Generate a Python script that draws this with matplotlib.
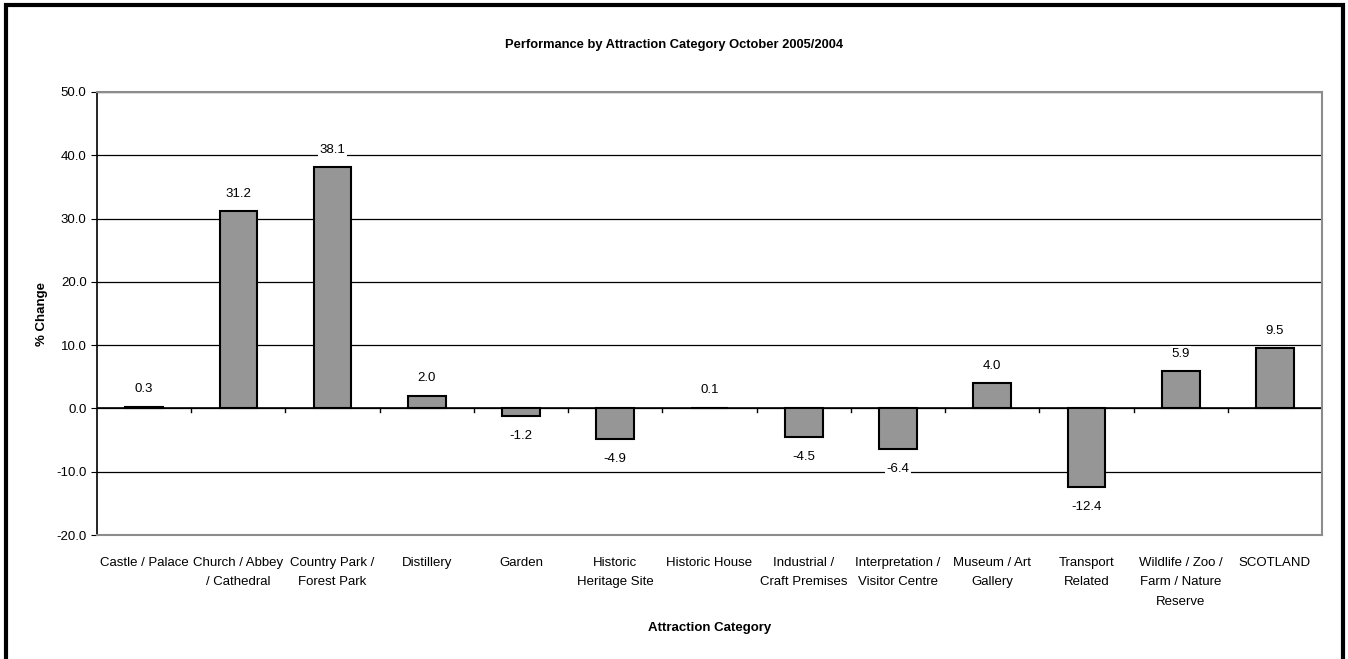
import matplotlib.pyplot as plt
from matplotlib.patches import Rectangle
import numpy as np

categories = ["Castle / Palace", "Church / Abbey\n/ Cathedral", "Country Park /\nForest Park",
              "Distillery", "Garden", "Historic\nHeritage Site", "Historic House",
              "Industrial /\nCraft Premises", "Interpretation /\nVisitor Centre",
              "Museum / Art\nGallery", "Transport\nRelated", "Wildlife / Zoo /\nFarm / Nature\nReserve",
              "SCOTLAND"]
pct_change = [0.3, 31.2, 38.1, 2.0, -1.2, -4.9, 0.1, -4.5, -6.4, 4.0, -12.4, 5.9, 9.5]

plt.rcParams['font.family'] = ['Liberation Sans Narrow', 'Liberation Sans', 'DejaVu Sans']

fig = plt.figure(figsize=(13.48, 6.59), dpi=100)
ax = fig.add_axes([97 / 1348, (659 - 535) / 659, (1322 - 97) / 1348, (535 - 92) / 659])

x = np.arange(len(categories))
ax.bar(x, pct_change, width=0.4, color="#969696", edgecolor="black", linewidth=1.5, zorder=3)

ax.set_xlim(-0.5, len(categories) - 0.5)
ax.set_ylim(-20, 50)
ax.set_yticks(np.arange(-20, 51, 10))
ax.set_yticklabels([f"{v:.1f}" for v in np.arange(-20, 51, 10)], fontsize=9.5)
ax.yaxis.grid(True, color="black", linewidth=0.9, zorder=0)
ax.set_axisbelow(True)

# category axis drawn along zero line
ax.axhline(0, color="black", linewidth=1.2, zorder=2)
for b in np.arange(0.5, len(categories) - 0.5, 1):
    ax.plot([b, b], [0, -0.6], color="black", linewidth=1, zorder=2)
ax.set_xticks(x)
ax.set_xticklabels(categories, fontsize=9.5, va="top", linespacing=1.8)
ax.tick_params(axis="x", length=0, pad=16)
ax.tick_params(axis="y", length=4, direction="out", color="black")

for s in ["top", "right", "bottom"]:
    ax.spines[s].set_color("#8c8c8c")
    ax.spines[s].set_linewidth(1.5)
ax.spines["left"].set_color("black")
ax.spines["left"].set_linewidth(1.2)

for xi, v in zip(x, pct_change):
    if v >= 0:
        ax.text(xi, v + 1.8, f"{v:.1f}", ha="center", va="bottom", fontsize=9.5,
                bbox=dict(facecolor="white", edgecolor="none", pad=1), zorder=4)
    else:
        ax.text(xi, v - 2.2, f"{v:.1f}", ha="center", va="top", fontsize=9.5,
                bbox=dict(facecolor="white", edgecolor="none", pad=1), zorder=4)

ax.set_ylabel("% Change", fontsize=9.5, fontweight="bold", labelpad=6)
ax.set_xlabel("Attraction Category", fontsize=9.5, fontweight="bold", labelpad=10)
fig.text(0.5, 1 - 45 / 659, "Performance by Attraction Category October 2005/2004",
         ha="center", va="center", fontsize=9.3, fontweight="bold")

# outer frame (bottom edge falls outside the image)
fig.patches.append(Rectangle((6 / 1348, -0.1), (1343 - 6) / 1348, 1.1 - 5 / 659,
                             transform=fig.transFigure, fill=False, edgecolor="black",
                             linewidth=3))

fig.savefig("out.png", dpi=100)
plt.close(fig)
